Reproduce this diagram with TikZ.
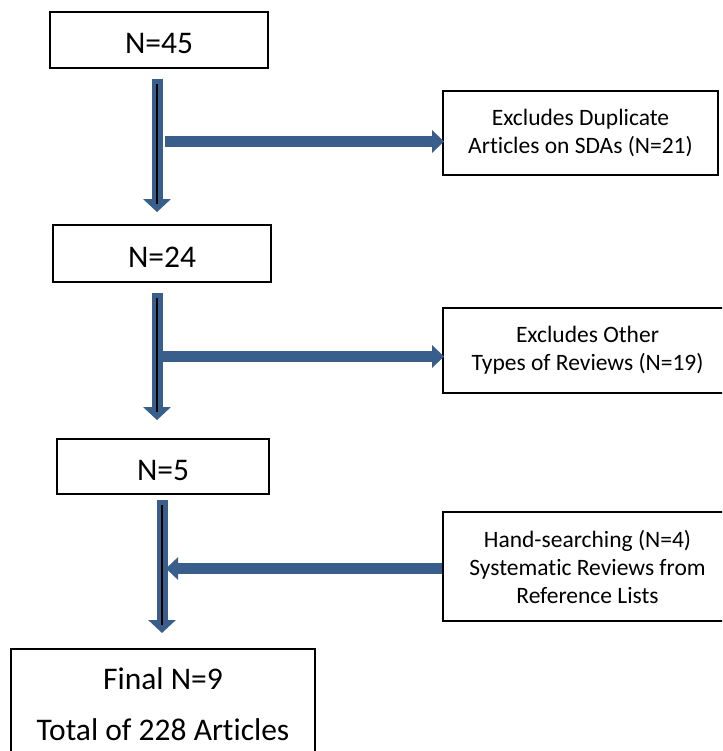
\documentclass[tikz,border=0pt]{standalone}
\usepackage{fontspec}
\setmainfont{Carlito}[Ligatures=NoCommon]
\usetikzlibrary{arrows.meta}
\definecolor{arrowblue}{RGB}{58,94,139}
\tikzset{
  mainbox/.style={draw=black, line width=1.8pt, fill=white, inner sep=0pt,
    font=\fontsize{31.5}{38}\selectfont, text height=30pt, text depth=2pt},
  sidebox/.style={draw=black, line width=1.8pt, fill=white, inner sep=0pt,
    align=center, font=\fontsize{23.5}{28}\selectfont},
  vblock/.style={draw=arrowblue, line width=11pt, -{Triangle[width=27pt,length=13pt]}},
  hblock/.style={draw=arrowblue, line width=11pt, -{Triangle[width=22pt,length=12pt]}},
  innerline/.style={draw=black, line width=1.3pt}
}
\begin{document}
\begin{tikzpicture}[x=1pt,y=-1pt]
\useasboundingbox (0,0) rectangle (722,751);
\clip (0,0) rectangle (722,751);
% main boxes
\node[mainbox, minimum width=218pt, minimum height=56pt] (b1) at (159,40) {N=45};
\node[mainbox, minimum width=218pt, minimum height=57pt] (b2) at (162,253.5) {N=24};
\node[mainbox, minimum width=212pt, minimum height=55pt] (b3) at (163,466.5) {N=5};
\node[draw=black, line width=1.8pt, fill=white, anchor=north, minimum width=304pt,
  inner xsep=0pt, inner ysep=19pt, align=center,
  font=\fontsize{31.5}{51}\selectfont] (fin) at (163,648) {Final N=9\\Total of 228 Articles};
% side boxes
\node[sidebox, minimum width=275pt, minimum height=84pt] (r1) at (580.5,133)
  {Excludes Duplicate\\Articles on SDAs (N=21)};
\node[sidebox, minimum width=289pt, minimum height=85pt] (r2) at (587.5,350.5)
  {Excludes Other\\Types of Reviews (N=19)};
\node[sidebox, minimum width=289pt, minimum height=109pt] (r3) at (587.5,566.5)
  {Hand-searching (N=4)\\Systematic Reviews from\\Reference Lists};
% arrow 1
\coordinate (a1s) at ([xshift=-2pt,yshift=-10pt]b1.south);
\coordinate (a1e) at ([yshift=12pt]a1s |- b2.north);
\draw[vblock] (a1s) -- (a1e);
\draw[innerline] ([yshift=-5pt]a1s) -- ([yshift=8pt]a1e);
\coordinate (h1s) at (165,141.5);
\draw[hblock, shorten >=-2pt] (h1s) -- (h1s -| r1.west);
% arrow 2
\coordinate (a2s) at ([xshift=-5pt,yshift=-10pt]b2.south);
\coordinate (a2e) at ([yshift=18pt]a2s |- b3.north);
\draw[vblock] (a2s) -- (a2e);
\draw[innerline] ([yshift=-5pt]a2s) -- ([yshift=8pt]a2e);
\coordinate (h2s) at (162,356.5);
\draw[hblock, shorten >=-2pt] (h2s) -- (h2s -| r2.west);
% arrow 3
\coordinate (a3s) at ([xshift=-1pt,yshift=-5pt]b3.south);
\coordinate (a3e) at ([yshift=15pt]a3s |- fin.north);
\draw[vblock] (a3s) -- (a3e);
\draw[innerline] ([yshift=-5pt]a3s) -- ([yshift=8pt]a3e);
\coordinate (h3e) at (166,568.5);
\draw[hblock] (h3e -| r3.west) -- (h3e);
\end{tikzpicture}
\end{document}
